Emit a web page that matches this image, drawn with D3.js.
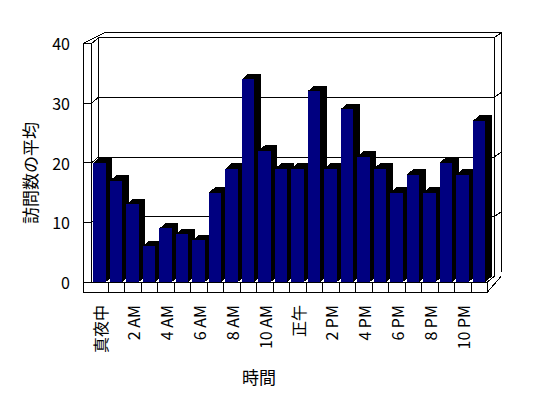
<!DOCTYPE html>
<html>
<head>
<meta charset="utf-8">
<script src="https://cdn.jsdelivr.net/npm/d3@7"></script>
<style>
  body { margin: 0; background: #fff; }
  text { font-family: "Noto Sans CJK JP", "Noto Sans", sans-serif; fill: #000; }
</style>
</head>
<body>
<svg id="chart"></svg>
<script>
// data
const hours = ["真夜中", "1 AM", "2 AM", "3 AM", "4 AM", "5 AM", "6 AM", "7 AM", "8 AM", "9 AM", "10 AM", "11 AM",
               "正午", "1 PM", "2 PM", "3 PM", "4 PM", "5 PM", "6 PM", "7 PM", "8 PM", "9 PM", "10 PM", "11 PM"];
const visits = [20, 17, 13, 6, 9, 8, 7, 15, 19, 34, 22, 19, 19, 32, 19, 29, 21, 19, 15, 18, 15, 20, 18, 27];
const yTicks = [0, 10, 20, 30, 40];
const xTitle = "時間";
const yTitle = "訪問数の平均";

const W = 548, H = 398;
const depth = { dx: 6.5, dy: -5.5 };   // front -> back of the floor
const wallT = { dx: 7, dy: -5 };       // thickness of the back wall
const leftOuter = 83;
const floorH = 10;

const svg = d3.select("#chart").attr("width", W).attr("height", H);
const g = svg.append("g").attr("fill", "none").attr("stroke", "#000").attr("stroke-width", 1)
    .attr("shape-rendering", "crispEdges");

const x = d3.scaleBand().domain(hours).range([91.7, 487.5]);
const y = d3.scaleLinear().domain([0, 40]).range([282, 43.4]);
const [x0, x1] = x.range();
const yBase = y(0);
const yb = v => y(v) + depth.dy;
const line = pts => g.append("path").attr("d", d3.line()(pts));

// back wall
const bx0 = x0 + depth.dx, bx1 = x1 + depth.dx;
const ox = bx1 + wallT.dx, oy = yb(40) + wallT.dy;
line([[bx0, yb(40)], [bx0, yb(0)]]);
line([[bx1, yb(40)], [bx1, yb(0)]]);
line([[bx0, yb(40)], [bx1, yb(40)], [ox, oy]]);
line([[leftOuter, y(40)], [bx0 + wallT.dx - 1, oy], [ox, oy], [ox, yb(0) + wallT.dy]]);

// gridlines across the left wall and back wall
yTicks.filter(v => v > 0 && v < 40).forEach(v => {
    line([[leftOuter, y(v)], [x0, y(v)], [bx0, yb(v)], [bx1, yb(v)], [bx1 + wallT.dx, yb(v) + wallT.dy]]);
});

// left wall
line([[leftOuter, y(40)], [leftOuter, yBase + floorH]]);
line([[leftOuter, y(40)], [x0, y(40)], [bx0, yb(40)]]);
line([[x0, y(40)], [x0, yBase]]);
line([[leftOuter, yBase], [x0, yBase]]);

// floor
line([[x1, yBase], [bx1, yb(0)]]);
line([[x1, yBase + floorH], [ox, yb(0) + wallT.dy + 5]]);
g.append("rect").attr("x", leftOuter).attr("y", yBase).attr("width", x1 - leftOuter).attr("height", floorH)
    .attr("fill", "#fff");
hours.slice(1).forEach(h => line([[x(h), yBase], [x(h), yBase + floorH]]));

// bars
const bw = 12.5, bOff = 1.7;
const bars = svg.append("g").attr("shape-rendering", "crispEdges");
hours.forEach((h, i) => {
    const bx = x(h) + bOff, top = y(visits[i]);
    bars.append("path")
        .attr("d", d3.line()([[bx, top], [bx + depth.dx, top + depth.dy], [bx + bw + depth.dx, top + depth.dy],
            [bx + bw + depth.dx, yBase + depth.dy], [bx + bw, yBase], [bx, yBase]]) + "Z")
        .attr("fill", "#000");
    bars.append("rect").attr("x", bx).attr("y", top).attr("width", bw).attr("height", yBase - top)
        .attr("fill", "#000080");
});

// y tick labels
svg.append("g").selectAll("text").data(yTicks).join("text")
    .attr("x", 70).attr("y", d => y(d)).attr("text-anchor", "end").attr("dominant-baseline", "central")
    .attr("font-size", 16).text(d => d);

// x tick labels every two hours
svg.append("g").selectAll("text").data(hours.filter((h, i) => i % 2 === 0)).join("text")
    .attr("transform", d => `translate(${x(d) + x.bandwidth() / 2},305) rotate(-90)`)
    .attr("text-anchor", "end").attr("dominant-baseline", "central")
    .attr("font-size", 16).text(d => d);

// axis titles
svg.append("text").attr("x", 259).attr("y", 376).attr("text-anchor", "middle").attr("dominant-baseline", "central")
    .attr("font-size", 17).text(xTitle);
svg.append("text").attr("transform", "translate(29,173) rotate(-90)").attr("text-anchor", "middle")
    .attr("dominant-baseline", "central").attr("font-size", 17).text(yTitle);
</script>
</body>
</html>
